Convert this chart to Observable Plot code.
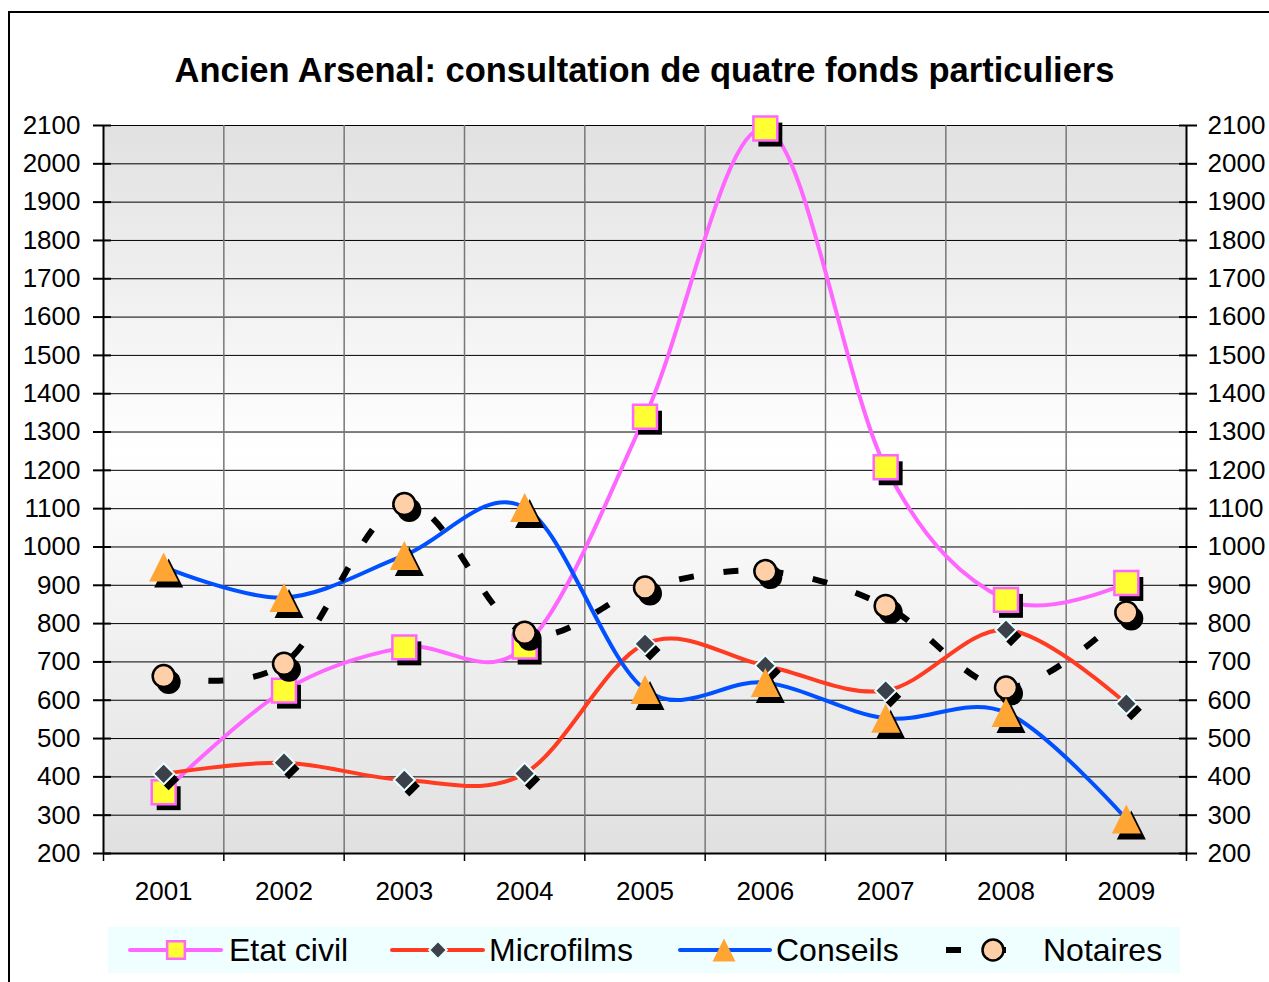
<!DOCTYPE html>
<html><head><meta charset="utf-8">
<script src="https://cdn.jsdelivr.net/npm/d3@7"></script>
<script src="https://cdn.jsdelivr.net/npm/@observablehq/plot@0.6"></script>
<style>
body{margin:0;background:#fff;font-family:"Liberation Sans",Arial,sans-serif;}
#frame{position:absolute;left:8px;top:11px;width:1400px;height:1100px;border:2px solid #000;box-sizing:border-box;}
#chart{position:absolute;left:0;top:0;}
#title{position:absolute;left:0;width:1289px;top:50px;text-align:center;font-weight:bold;font-size:34.5px;line-height:40px;color:#000;}
#legend{position:absolute;left:108px;top:927px;width:1072px;height:46px;background:#effefe;}
#legend svg{position:absolute;left:0;top:0;}
#legend span{position:absolute;top:0;line-height:46px;font-size:32px;color:#000;white-space:nowrap;}
</style></head>
<body>
<div id="frame"></div>
<div id="chart"></div>
<div id="title">Ancien Arsenal: consultation de quatre fonds particuliers</div>
<div id="legend"></div>
<script>
// ---- data ----
const years = [2001, 2002, 2003, 2004, 2005, 2006, 2007, 2008, 2009];
const etatCivil  = [360, 625, 738, 740, 1340, 2092, 1208, 862, 906];
const microfilms = [408, 437, 392, 409, 747, 690, 625, 784, 591];
const conseils   = [948, 868, 978, 1103, 628, 646, 553, 568, 290];
const notaires   = [663, 695, 1112, 776, 894, 937, 846, 633, 829];
const yTicks = [200, 300, 400, 500, 600, 700, 800, 900, 1000, 1100, 1200, 1300, 1400, 1500, 1600, 1700, 1800, 1900, 2000, 2100];
const seriesNames = ["Etat civil", "Microfilms", "Conseils", "Notaires"];

// ---- styles ----
const triSymbol = {draw(ctx, size){ const r = Math.sqrt(size/Math.PI); ctx.moveTo(0,-r); ctx.lineTo(r,r); ctx.lineTo(-r,r); ctx.closePath(); }};
const styles = {
  "Etat civil": {line:"#ff66ff", width:4, dash:null, symbol:"square", r:13.5, fill:"#ffff33", stroke:"#ff66ff", sw:2.5},
  "Microfilms": {line:"#ff3b22", width:4, dash:null, symbol:"diamond2", r:9.5, fill:"#3b404a", stroke:"#eaffff", sw:2},
  "Conseils":   {line:"#0050ff", width:4, dash:null, symbol:triSymbol, r:14.5, fill:"#ffa533", stroke:"none", sw:0},
  "Notaires":   {line:"#000000", width:6, dash:"15,30", symbol:"circle", r:11, fill:"#ffd0a8", stroke:"#000", sw:2.5}
};
const valuesBy = {"Etat civil": etatCivil, "Microfilms": microfilms, "Conseils": conseils, "Notaires": notaires};
const rows = name => years.map((year, i) => ({year, value: valuesBy[name][i], series: name}));

const xDomain = [years[0] - 0.5, years[years.length - 1] + 0.5];
const bounds = years.map(y => y - 0.5).concat([years[years.length - 1] + 0.5]);

const lineMarks = seriesNames.map(n => Plot.line(rows(n), {
  x: "year", y: "value", stroke: styles[n].line, strokeWidth: styles[n].width,
  strokeDasharray: styles[n].dash, curve: "cardinal", strokeLinecap: "butt"
}));
const markerOrder = ["Etat civil", "Notaires", "Microfilms", "Conseils"];
const dotMarks = markerOrder.flatMap(n => {
  const s = styles[n];
  return [
    Plot.dot(rows(n), {x: "year", y: "value", symbol: s.symbol, r: s.r + (n === "Notaires" ? 1 : 0), fill: "#000", dx: 5, dy: 6}),
    Plot.dot(rows(n), {x: "year", y: "value", symbol: s.symbol, r: s.r, fill: s.fill, stroke: s.stroke, strokeWidth: s.sw})
  ];
});

const chart = Plot.plot({
  width: 1269, height: 915,
  marginLeft: 103, marginRight: 83, marginTop: 125, marginBottom: 62,
  style: {fontFamily: "'Liberation Sans', Arial, sans-serif", fontSize: "26px", background: "transparent", overflow: "visible"},
  x: {type: "linear", domain: xDomain},
  y: {domain: [200, 2100]},
  marks: [
    Plot.frame({fill: "url(#bg)", stroke: "none"}),
    Plot.ruleY(yTicks, {stroke: "#000", strokeWidth: 1}),
    Plot.ruleX(bounds.slice(1, -1), {stroke: "#777", strokeWidth: 1.5}),
    Plot.ruleX([xDomain[0], xDomain[1]], {stroke: "#000", strokeWidth: 2}),
    Plot.ruleY([200], {stroke: "#000", strokeWidth: 2}),
    Plot.axisY(yTicks, {anchor: "left", tickSize: 18, dx: 8, tickPadding: 13, strokeWidth: 2, fontSize: 26, tickFormat: d => String(d), label: null}),
    Plot.axisY(yTicks, {anchor: "right", tickSize: 18, dx: -8, tickPadding: 11, strokeWidth: 2, fontSize: 26, tickFormat: d => String(d), label: null}),
    Plot.axisX(bounds, {anchor: "bottom", tickSize: 8, strokeWidth: 1.5, tickFormat: () => "", label: null}),
    Plot.axisX(years, {anchor: "bottom", tickSize: 0, tickPadding: 28, fontSize: 26, tickFormat: d => String(d), label: null}),
    ...lineMarks,
    ...dotMarks
  ]
});
d3.select(chart).insert("defs", ":first-child").html(
  '<linearGradient id="bg" x1="0" y1="0" x2="0" y2="1">' +
  '<stop offset="0" stop-color="#e1e1e1"/><stop offset="0.45" stop-color="#ffffff"/><stop offset="1" stop-color="#e0e0e0"/>' +
  '</linearGradient>');
document.getElementById("chart").appendChild(chart);

// ---- legend ----
const legend = d3.select("#legend");
const lsvg = legend.append("svg").attr("width", 1072).attr("height", 46);
const legendPos = {
  "Etat civil": {x0: 22, x1: 113, m: 68, t: 121, r: 10},
  "Microfilms": {x0: 284, x1: 375, m: 330, t: 381, r: 8},
  "Conseils":   {x0: 572, x1: 662, m: 616, t: 668, r: 11.5},
  "Notaires":   {x0: 838, x1: 928, m: 885, t: 935, r: 10.5}
};
const d3sym = {"square": d3.symbolSquare, "diamond2": d3.symbolDiamond2, "circle": d3.symbolCircle};
seriesNames.forEach(n => {
  const s = styles[n], p = legendPos[n];
  lsvg.append("line").attr("x1", p.x0).attr("x2", p.x1).attr("y1", 23).attr("y2", 23)
    .attr("stroke", s.line).attr("stroke-width", s.width)
    .attr("stroke-dasharray", s.dash).attr("stroke-linecap", s.dash ? "butt" : "round");
  const symType = typeof s.symbol === "string" ? d3sym[s.symbol] : s.symbol;
  lsvg.append("path").attr("transform", `translate(${p.m},23)`)
    .attr("d", d3.symbol(symType, Math.PI * p.r * p.r)())
    .attr("fill", s.fill).attr("stroke", s.stroke).attr("stroke-width", s.sw);
  legend.append("span").style("left", p.t + "px").text(n);
});
</script>
</body></html>
